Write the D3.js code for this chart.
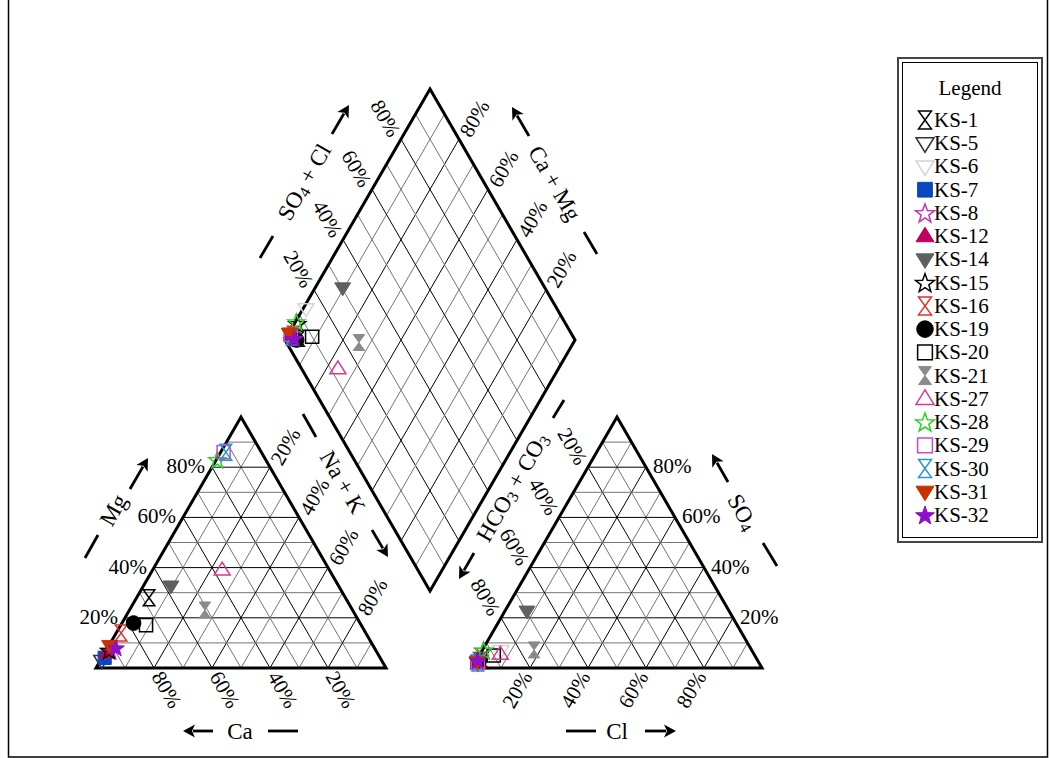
<!DOCTYPE html>
<html>
<head>
<meta charset="utf-8">
<script src="https://cdn.jsdelivr.net/npm/d3@7"></script>
<style>
  body { margin: 0; background: #fff; }
  svg { display: block; }
  text { font-family: "Liberation Serif", "Times New Roman", Times, serif; fill: #000; }
</style>
</head>
<body>
<svg id="chart" width="1051" height="758"></svg>
<script>
// ---- Sample data (milliequivalent percentages) ----
const samples = ["KS-1","KS-5","KS-6","KS-7","KS-8","KS-12","KS-14","KS-15","KS-16",
                 "KS-19","KS-20","KS-21","KS-27","KS-28","KS-29","KS-30","KS-31","KS-32"];
// cations
const ca  = [67.7, 96.5, 94.0, 95.0, 91.5, 93.2, 57.8, 92.0, 84.4, 78.1, 74.2, 50.9, 37.0, 16.7, 13.0, 12.2, 90.8, 89.1];
const mg  = [28.0,  3.0,  5.0,  4.0,  7.0,  6.0, 32.7,  7.0, 13.9, 17.9, 17.1, 23.1, 39.0, 83.0, 86.0, 86.0,  9.0,  8.0];
const nak = [ 4.3,  0.5,  1.0,  1.0,  1.5,  0.8,  9.5,  1.0,  1.7,  4.0,  8.7, 26.0, 24.0,  0.3,  1.0,  1.8,  0.2,  2.9];
// anions
const hco3 = [95.0, 97.0, 86.5, 97.0, 96.0, 96.5, 69.7, 92.5, 96.0, 96.0, 90.0, 75.0, 87.5, 92.5, 97.0, 97.0, 97.0, 96.5];
const so4  = [ 3.0,  2.0,  7.0,  2.5,  3.0,  2.5, 22.7,  7.0,  3.0,  3.0,  5.0,  7.2,  5.5,  7.0,  2.0,  2.0,  2.5,  3.0];
const cl   = [ 2.0,  1.0,  6.5,  0.5,  1.0,  1.0,  7.6,  0.5,  1.0,  1.0,  5.0, 17.8,  7.0,  0.5,  1.0,  1.0,  0.5,  0.5];

const tickValues = [20, 40, 60, 80];
const tickLabel = v => v + "%";

// ---- Marker styles per sample ----
const markerStyle = {
  "KS-1":  { shape: "hourglass", color: "#000000", filled: false },
  "KS-5":  { shape: "down",      color: "#2b3440", filled: false },
  "KS-6":  { shape: "down",      color: "#d4d4d4", filled: false },
  "KS-7":  { shape: "square",    color: "#0a46be", filled: true  },
  "KS-8":  { shape: "star",      color: "#c832b4", filled: false },
  "KS-12": { shape: "up",        color: "#c0005c", filled: true  },
  "KS-14": { shape: "down",      color: "#606060", filled: true  },
  "KS-15": { shape: "star",      color: "#000000", filled: false },
  "KS-16": { shape: "hourglass", color: "#e0302c", filled: false },
  "KS-19": { shape: "circle",    color: "#000000", filled: true  },
  "KS-20": { shape: "square",    color: "#000000", filled: false },
  "KS-21": { shape: "hourglass", color: "#8a8a8a", filled: true  },
  "KS-27": { shape: "up",        color: "#d43a94", filled: false },
  "KS-28": { shape: "star",      color: "#2ed02a", filled: false },
  "KS-29": { shape: "square",    color: "#d048d0", filled: false },
  "KS-30": { shape: "hourglass", color: "#2896d2", filled: false },
  "KS-31": { shape: "down",      color: "#c83200", filled: true  },
  "KS-32": { shape: "star",      color: "#9010c8", filled: true  }
};

function shapePath(type, r) {
  switch (type) {
    case "hourglass":
      return `M${-0.72*r},${-r}H${0.72*r}L${-0.72*r},${r}H${0.72*r}Z`;
    case "down":
      return `M${-r},${-0.62*r}H${r}L0,${1.0*r}Z`;
    case "up":
      return `M0,${-1.0*r}L${r},${0.62*r}H${-r}Z`;
    case "square": {
      const s = 0.82 * r;
      return `M${-s},${-s}H${s}V${s}H${-s}Z`;
    }
    case "circle": {
      const c = 0.92 * r;
      return `M${c},0A${c},${c} 0 1,1 ${-c},0A${c},${c} 0 1,1 ${c},0Z`;
    }
    case "star": {
      const pts = [];
      const R = 1.1 * r, ri = 0.45 * r;
      for (let k = 0; k < 10; k++) {
        const rad = k % 2 === 0 ? R : ri;
        const ang = -Math.PI / 2 + k * Math.PI / 5;
        pts.push([rad * Math.cos(ang), rad * Math.sin(ang) + 0.1 * r]);
      }
      return "M" + pts.map(p => p.join(",")).join("L") + "Z";
    }
  }
  return "";
}

const svg = d3.select("#chart");

// page frame
svg.append("rect")
  .attr("x", 8.5).attr("y", -3).attr("width", 1039).attr("height", 760)
  .attr("fill", "none").attr("stroke", "#000").attr("stroke-width", 1.5);

// ---- Scales ----
// cation triangle: Ca bottom-left, Na+K bottom-right, Mg apex
const lx = d3.scaleLinear().domain([0, 1]).range([96, 386]);
const ly = d3.scaleLinear().domain([0, 1]).range([668, 417]);
// anion triangle: HCO3 bottom-left, Cl bottom-right, SO4 apex
const rx = d3.scaleLinear().domain([0, 1]).range([472, 762]);
const ry = d3.scaleLinear().domain([0, 1]).range([668, 417]);
// diamond
const dx = d3.scaleLinear().domain([-1, 1]).range([285, 575]);
const dy = d3.scaleLinear().domain([0, 2]).range([591, 89]);

const leftPt  = (m, n) => [lx(n + m / 2), ly(m)];
const rightPt = (s, c) => [rx(c + s / 2), ry(s)];
const diaPt   = (n, a) => [dx(a - (1 - n)), dy(a + (1 - n))];

const line = d3.line();
const gridColor = i => (i % 2 === 0 ? "#000" : "#747474");

const gGrid = svg.append("g").attr("fill", "none").attr("stroke-width", 1);

for (let i = 1; i <= 9; i++) {
  const p = i / 10;
  const col = gridColor(i);
  // cation triangle
  [[leftPt(p, 0), leftPt(p, 1 - p)],
   [leftPt(0, p), leftPt(1 - p, p)],
   [leftPt(0, 1 - p), leftPt(1 - p, 0)]].forEach(seg =>
    gGrid.append("path").attr("d", line(seg)).attr("stroke", col));
  // anion triangle
  [[rightPt(p, 0), rightPt(p, 1 - p)],
   [rightPt(0, p), rightPt(1 - p, p)],
   [rightPt(0, 1 - p), rightPt(1 - p, 0)]].forEach(seg =>
    gGrid.append("path").attr("d", line(seg)).attr("stroke", col));
  // diamond
  [[diaPt(0, p), diaPt(1, p)],
   [diaPt(p, 0), diaPt(p, 1)]].forEach(seg =>
    gGrid.append("path").attr("d", line(seg)).attr("stroke", col));
}

// outlines
const gOut = svg.append("g").attr("fill", "none").attr("stroke", "#000")
  .attr("stroke-width", 3).attr("stroke-linejoin", "miter");
gOut.append("path").attr("d", line([leftPt(0, 0), leftPt(0, 1), leftPt(1, 0)]) + "Z");
gOut.append("path").attr("d", line([rightPt(0, 0), rightPt(0, 1), rightPt(1, 0)]) + "Z");
gOut.append("path").attr("d", line([diaPt(0, 0), diaPt(0, 1), diaPt(1, 1), diaPt(1, 0)]) + "Z");

// ---- Tick labels ----
const gTick = svg.append("g").attr("font-size", 21);
function tick(x, y, str, anchor, rot) {
  gTick.append("text")
    .attr("transform", `translate(${x},${y}) rotate(${rot})`)
    .attr("text-anchor", anchor)
    .attr("dominant-baseline", "central")
    .text(str);
}
tickValues.forEach(v => {
  const p = v / 100;
  let q;
  // Mg (left edge of cation triangle)
  q = leftPt(p, 0);        tick(q[0] - 7, q[1] - 1, tickLabel(v), "end", 0);
  // Ca (base of cation triangle)
  q = leftPt(0, 1 - p);    tick(q[0] + 3, q[1] + 5, tickLabel(v), "start", 60);
  // Na+K (right edge of cation triangle)
  q = leftPt(1 - p, p);    tick(q[0] + 6, q[1] - 4, tickLabel(v), "start", -60);
  // Cl (base of anion triangle)
  q = rightPt(0, p);       tick(q[0] - 3, q[1] + 5, tickLabel(v), "end", -60);
  // SO4 (right edge of anion triangle)
  q = rightPt(p, 1 - p);   tick(q[0] + 7, q[1] - 1, tickLabel(v), "start", 0);
  // HCO3 + CO3 (left edge of anion triangle)
  q = rightPt(1 - p, 0);   tick(q[0] - 6, q[1] - 4, tickLabel(v), "end", 60);
  // SO4 + Cl (upper-left edge of diamond)
  q = diaPt(0, p);         tick(q[0] - 6, q[1] - 4, tickLabel(v), "end", 60);
  // Ca + Mg (upper-right edge of diamond)
  q = diaPt(1 - p, 1);     tick(q[0] + 6, q[1] - 4, tickLabel(v), "start", -60);
});

// ---- Axis titles, arrows and dashes ----
const gTitle = svg.append("g").attr("font-size", 23);
function title(x, y, rot, parts) {
  const t = gTitle.append("text")
    .attr("transform", `translate(${x},${y}) rotate(${rot})`)
    .attr("text-anchor", "middle")
    .attr("dominant-baseline", "central");
  parts.forEach(pt => {
    if (pt.sub) {
      t.append("tspan").attr("font-size", 16).attr("dy", 5).text(pt.t);
    } else {
      t.append("tspan").attr("dy", pt.after ? -5 : 0).text(pt.t);
    }
  });
}
const gMark = svg.append("g").attr("stroke", "#000").attr("stroke-width", 2.8).attr("fill", "#000");
function arrow(x1, y1, x2, y2) {
  const ang = Math.atan2(y2 - y1, x2 - x1);
  const hl = 12, hw = 6.5;
  const bx = x2 - hl * Math.cos(ang), by = y2 - hl * Math.sin(ang);
  gMark.append("line").attr("x1", x1).attr("y1", y1).attr("x2", bx + 2 * Math.cos(ang)).attr("y2", by + 2 * Math.sin(ang));
  const px = -Math.sin(ang), py = Math.cos(ang);
  gMark.append("path").attr("stroke-width", 0)
    .attr("d", `M${x2},${y2}L${bx + hw * px},${by + hw * py}L${bx + 3 * Math.cos(ang)},${by + 3 * Math.sin(ang)}L${bx - hw * px},${by - hw * py}Z`);
}
function dash(x1, y1, x2, y2) {
  gMark.append("line").attr("x1", x1).attr("y1", y1).attr("x2", x2).attr("y2", y2);
}

// Mg
title(113, 510, -60, [{ t: "Mg" }]);
arrow(130, 489, 148, 458);
dash(85, 558, 98, 535);
// Na + K
title(343, 482, 60, [{ t: "Na + K" }]);
dash(303, 414, 316, 437);
arrow(372, 530, 388, 557);
// Ca
title(240, 731, 0, [{ t: "Ca" }]);
arrow(213, 731, 183, 731);
dash(268, 731, 298, 731);
// Cl
title(617, 731, 0, [{ t: "Cl" }]);
dash(566, 731, 596, 731);
arrow(645, 731, 676, 731);
// HCO3 + CO3
title(512, 487, -60, [{ t: "HCO" }, { t: "3", sub: true }, { t: " + CO", after: true }, { t: "3", sub: true }]);
arrow(474, 553, 459, 579);
dash(553, 418, 564, 400);
// SO4
title(743, 512, 60, [{ t: "SO" }, { t: "4", sub: true }]);
arrow(728, 482, 712, 454);
dash(763, 543, 777, 566);
// SO4 + Cl
title(304, 182, -60, [{ t: "SO" }, { t: "4", sub: true }, { t: " + Cl", after: true }]);
arrow(332, 134, 349, 105);
dash(260, 258, 273, 236);
// Ca + Mg
title(555, 183, 60, [{ t: "Ca + Mg" }]);
arrow(529, 136, 512, 107);
dash(584, 232, 597, 254);

// ---- Data points ----
const R = 8;
const gPts = svg.append("g");
function drawMarker(g, name, x, y, r) {
  const st = markerStyle[name];
  g.append("path")
    .attr("transform", `translate(${x},${y})`)
    .attr("d", shapePath(st.shape, r))
    .attr("fill", st.filled ? st.color : "none")
    .attr("stroke", st.color)
    .attr("stroke-width", st.filled ? 1 : 1.5)
    .attr("stroke-linejoin", "miter");
}
samples.forEach((name, i) => {
  const m = mg[i] / 100, n = nak[i] / 100;
  const s = so4[i] / 100, c = cl[i] / 100;
  const a = (so4[i] + cl[i]) / 100;
  const p1 = leftPt(m, n), p2 = rightPt(s, c), p3 = diaPt(n, a);
  drawMarker(gPts, name, p1[0], p1[1], R);
  drawMarker(gPts, name, p2[0], p2[1], R);
  drawMarker(gPts, name, p3[0], p3[1], R);
});

// ---- Legend ----
const lg = svg.append("g");
lg.append("rect").attr("x", 898).attr("y", 58).attr("width", 144).attr("height", 484)
  .attr("fill", "#fff").attr("stroke", "#444").attr("stroke-width", 2);
lg.append("rect").attr("x", 902.5).attr("y", 62.5).attr("width", 135).attr("height", 475)
  .attr("fill", "none").attr("stroke", "#000").attr("stroke-width", 1);
lg.append("text").attr("x", 970).attr("y", 88).attr("text-anchor", "middle")
  .attr("dominant-baseline", "central").attr("font-size", 21).text("Legend");
const legY = d3.scaleLinear().domain([0, samples.length - 1]).range([120, 515]);
samples.forEach((name, i) => {
  drawMarker(lg, name, 925, legY(i), 9);
  lg.append("text").attr("x", 934).attr("y", legY(i)).attr("dominant-baseline", "central")
    .attr("font-size", 21).text(name);
});
</script>
</body>
</html>
